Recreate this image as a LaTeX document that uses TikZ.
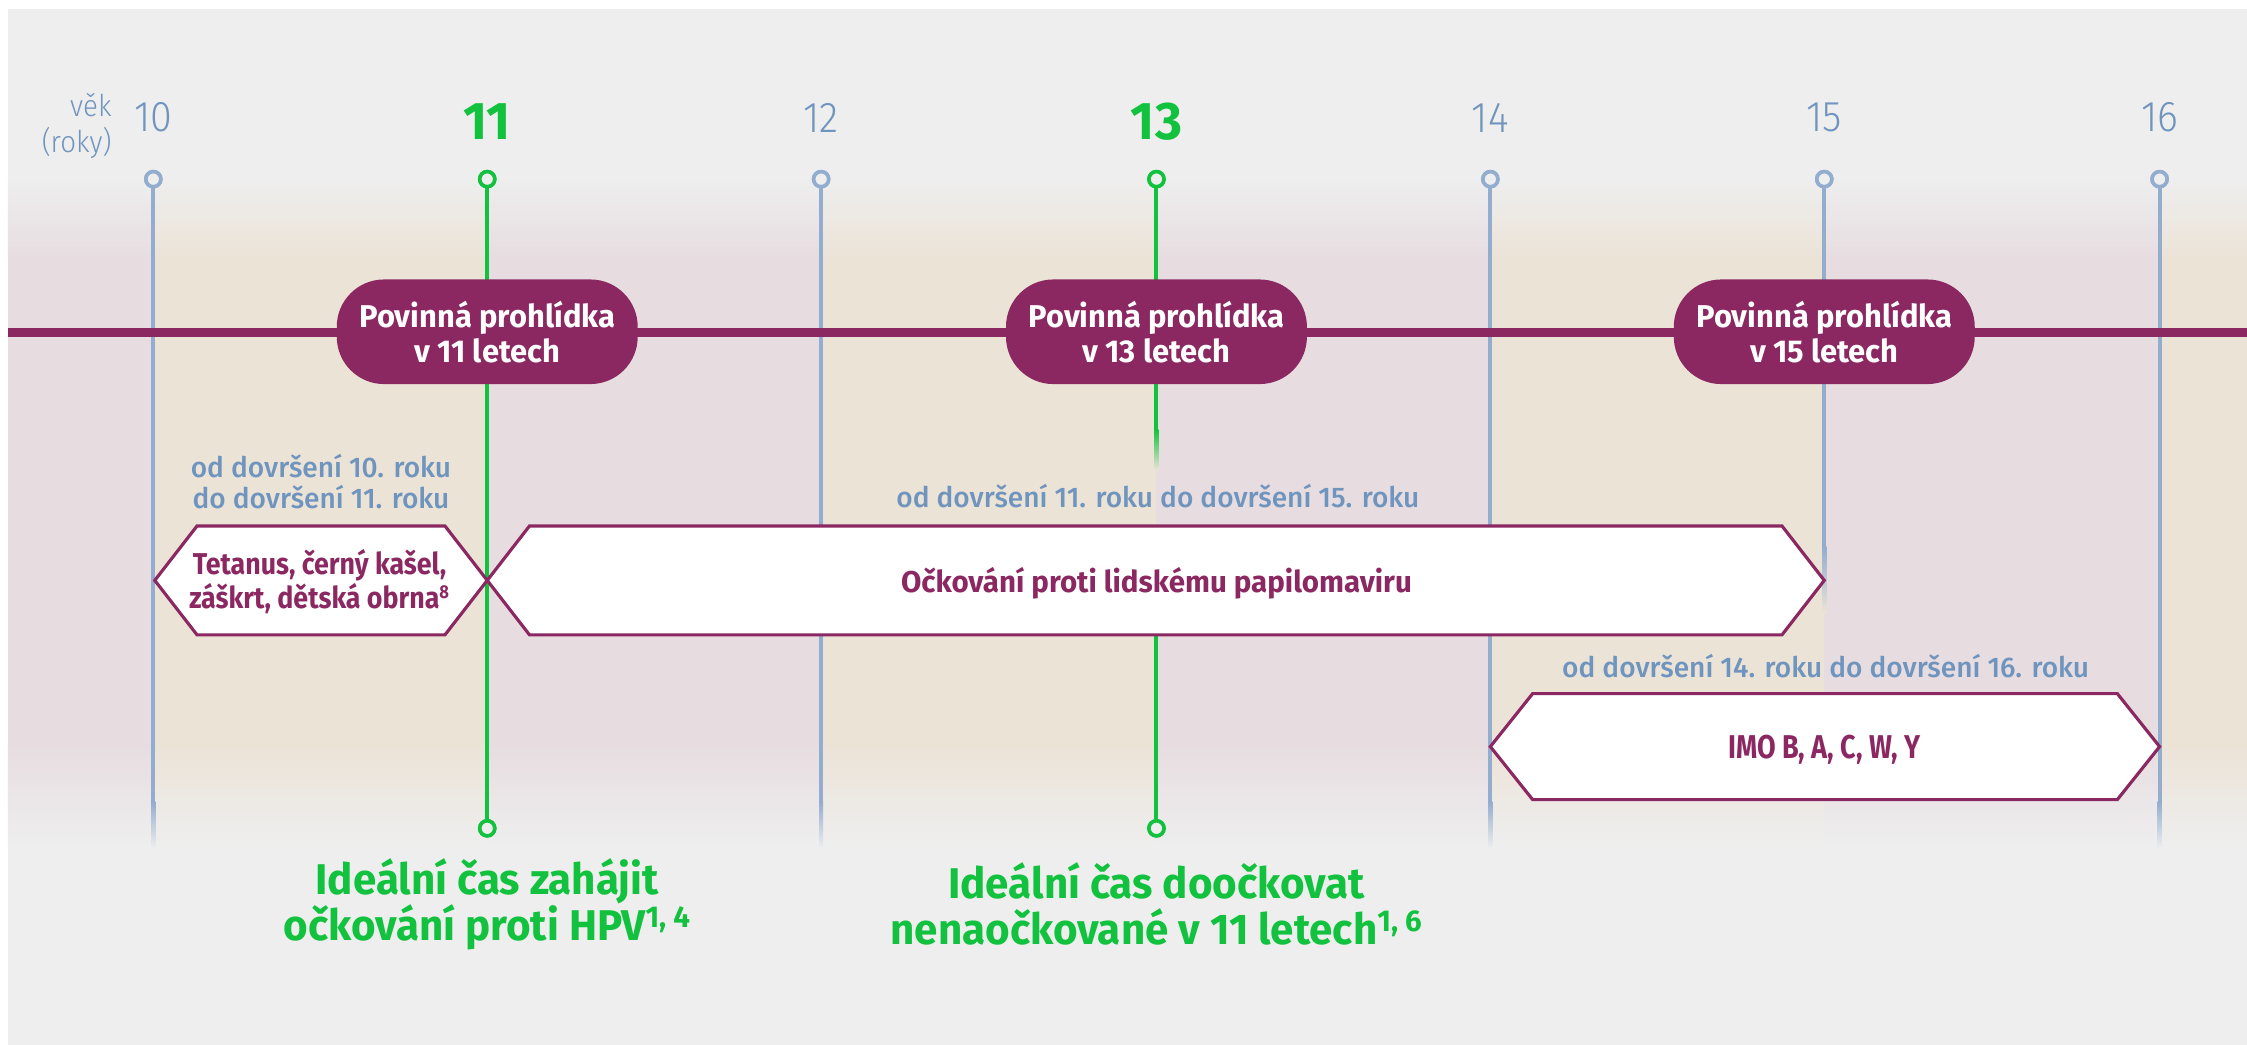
\documentclass[tikz,border=0pt]{standalone}
\usepackage{fontspec}
\setmainfont{Fira Sans}[FakeStretch=0.98]
\newfontfamily\lightfont{Fira Sans Light}[FakeStretch=0.92]
\newfontfamily\medfont{Fira Sans Medium}[FakeStretch=0.99]
\newfontfamily\narrowbold{Fira Sans Bold}[FakeStretch=0.89]
\newfontfamily\capsbold{Fira Sans Bold}[FakeStretch=0.82]
\definecolor{bg}{HTML}{EEEEEE}
\definecolor{beige}{HTML}{ECE3D7}
\definecolor{pinkg}{HTML}{E7DDE0}
\definecolor{plum}{HTML}{8B2862}
\definecolor{steel}{HTML}{93ADCF}
\definecolor{steeltxt}{HTML}{6F94BE}
\definecolor{grn}{HTML}{12C23E}
\tikzset{
  pill/.style={fill=plum, rounded corners=33pt, minimum width=210pt, minimum height=73pt,
    text=white, font=\bfseries\fontsize{22}{24.5}\selectfont, align=center, inner sep=0pt},
  rangetxt/.style={text=steeltxt, font=\medfont\fontsize{19.8}{21.5}\selectfont, align=center, inner sep=0pt},
  hextxt/.style={text=plum, font=\bfseries\fontsize{21}{24}\selectfont, align=center, inner sep=0pt},
  hexbox/.style={draw=plum, fill=white, line width=2.2pt, line join=miter},
  age/.style={text=steeltxt, font=\lightfont\fontsize{30}{30}\selectfont, inner sep=0pt},
  agekey/.style={text=grn, font=\bfseries\fontsize{37}{37}\selectfont, inner sep=0pt},
  agelbl/.style={text=steeltxt, font=\lightfont\fontsize{21}{25}\selectfont, align=right, inner sep=0pt, anchor=east},
  ideal/.style={text=grn, font=\bfseries\fontsize{30}{32}\selectfont, align=center, inner sep=0pt},
  bdot/.style={circle, draw=steel, fill=bg, line width=2.5pt, minimum size=10.5pt, inner sep=0pt},
  gdot/.style={circle, draw=grn, fill=bg, line width=2.5pt, minimum size=10.5pt, inner sep=0pt},
  vline/.style={draw=steel, line width=2.8pt},
  gline/.style={draw=grn, line width=2.8pt},
}
\begin{document}
\begin{tikzpicture}[x=1pt,y=-1pt]
\useasboundingbox (0,0) rectangle (1568,729.2);
\fill[white] (0,0) rectangle (1568,729.2);
\fill[bg] (5.5,6.3) rectangle (1568,729.2);
% vertical bands
\foreach \a/\b/\c in {5.5/107/pinkg,107/340/beige,340/573/pinkg,573/807/beige,807/1040/pinkg,1040/1273/beige,1273/1507/pinkg,1507/1568/beige}{
  \shade[top color=bg, bottom color=\c] (\a,125) rectangle (\b,180);
  \fill[\c] (\a,179.5) rectangle (\b,520.5);
  \shade[top color=\c, bottom color=bg] (\a,520) rectangle (\b,590);
}
% dots
\foreach \n/\x in {10/107,12/573,14/1040,15/1273,16/1507}{
  \node[bdot] (c\n) at (\x,125) {};
}
\node[gdot] (c11) at (340,125) {};
\node[gdot] (c13) at (807,125) {};
\node[gdot] (d11) at (340,578) {};
\node[gdot] (d13) at (807,578) {};
% blue lines
\foreach \n/\x in {10/107,12/573,14/1040,16/1507}{
  \coordinate (e\n) at (\x,560);
  \draw[vline] (c\n) -- (e\n);
  \shade[top color=steel, bottom color=bg] (\x-1.4,559.5) rectangle (\x+1.4,592);
}
\coordinate (e15) at (1273,382);
\draw[vline] (c15) -- (e15);
\shade[top color=steel, bottom color=beige] (1271.6,381.5) rectangle (1274.4,428);
% green lines
\draw[gline] (c11) -- (d11);
\coordinate (g13a) at (807,300);
\coordinate (g13b) at (807,443);
\draw[gline] (c13) -- (g13a);
\shade[top color=grn, bottom color=beige] (805.6,299.5) rectangle (808.4,328);
\draw[gline] (g13b) -- (d13);
% redraw dots on top
\foreach \n/\x in {10/107,12/573,14/1040,15/1273,16/1507}{
  \node[bdot] at (\x,125) {};
}
\node[gdot] at (340,125) {};
\node[gdot] at (807,125) {};
\node[gdot] at (340,578) {};
\node[gdot] at (807,578) {};
% timeline
\coordinate (tl) at (5.5,232);
\coordinate (tr) at (1568,232);
\draw[plum, line width=6pt] (tl) -- (tr);
% pills
\node[pill] (p11) at (340,231.5) {Povinná prohlídka\\v 11 letech};
\node[pill] (p13) at (807,231.5) {Povinná prohlídka\\v 13 letech};
\node[pill] (p15) at (1273,231.5) {Povinná prohlídka\\v 15 letech};
% hexagons
\draw[hexbox] (108,405) -- (137.5,367) -- (310.5,367) -- (340,405) -- (310.5,443) -- (137.5,443) -- cycle;
\draw[hexbox] (340,405) -- (369.5,367) -- (1243.5,367) -- (1273,405) -- (1243.5,443) -- (369.5,443) -- cycle;
\draw[hexbox] (1040,521) -- (1069.5,484) -- (1477.5,484) -- (1507,521) -- (1477.5,558) -- (1069.5,558) -- cycle;
\node[hextxt, font=\narrowbold\fontsize{21}{24}\selectfont] (h1) at (223,406) {Tetanus, černý kašel,\\záškrt, dětská obrna\textsuperscript{\fontsize{13}{13}\selectfont 8}};
\node[hextxt] (h2) at (807,407) {Očkování proti lidskému papilomaviru};
\node[hextxt, font=\capsbold\fontsize{23}{24}\selectfont] (h3) at (1273,523) {IMO B, A, C, W, Y};
% range labels
\node[rangetxt] (r1) at (224,336) {od dovršení 10. roku\\do dovršení 11. roku};
\node[rangetxt] (r2) at (808,346) {od dovršení 11. roku do dovršení 15. roku};
\node[rangetxt] (r3) at (1274,465) {od dovršení 14. roku do dovršení 16. roku};
% ages
\node[agelbl] (vek) at (78,88) {věk\\(roky)};
\node[age] (a10) at (107,82) {10};
\node[agekey] (a11) at (340,85) {11};
\node[age] (a12) at (573,82) {12};
\node[agekey] (a13) at (807,85) {13};
\node[age] (a14) at (1040,82) {14};
\node[age] (a15) at (1273,82) {15};
\node[age] (a16) at (1507,82) {16};
% bottom captions
\node[ideal] (i1) at (340,631) {Ideální čas zahájit\\očkování proti HPV\textsuperscript{1, 4}};
\node[ideal] (i2) at (807,631) {Ideální čas doočkovat\\nenaočkované v 11 letech\textsuperscript{1, 6}};
\end{tikzpicture}
\end{document}
